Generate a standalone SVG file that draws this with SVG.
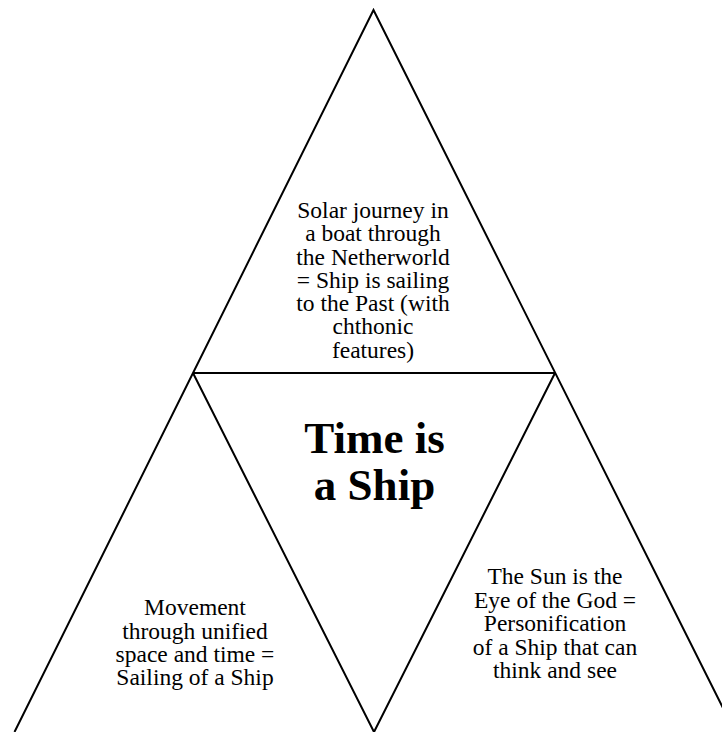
<svg xmlns="http://www.w3.org/2000/svg" width="722" height="732" viewBox="0 0 722 732">
<style>
.ln{stroke:#000;stroke-width:2;fill:none;stroke-linecap:butt;stroke-linejoin:miter}
.t{font-family:"Liberation Serif","Times New Roman",serif;font-size:23.5px;fill:#000;text-anchor:middle}
.title{font-family:"Liberation Serif","Times New Roman",serif;font-size:45px;font-weight:bold;fill:#000;text-anchor:middle}
</style>
<rect width="722" height="732" fill="#fff"/>
<g id="connectors">
<polyline class="ln" points="14.5,732 373.5,10 735,732"/>
<line class="ln" x1="193" y1="373" x2="555" y2="373"/>
<polyline class="ln" points="193,373 374,732 555,373"/>
</g>
<g id="node-top">
<text class="t" x="373" y="218">Solar journey in</text>
<text class="t" x="373" y="241">a boat through</text>
<text class="t" x="373" y="264.5">the Netherworld</text>
<text class="t" x="373" y="288">= Ship is sailing</text>
<text class="t" x="373" y="311">to the Past (with</text>
<text class="t" x="373" y="334">chthonic</text>
<text class="t" x="373" y="357.5">features)</text>
</g>
<g id="node-center">
<text class="title" x="374.5" y="453">Time is</text>
<text class="title" x="374.5" y="500">a Ship</text>
</g>
<g id="node-left">
<text class="t" x="195" y="615">Movement</text>
<text class="t" x="195" y="638.5">through unified</text>
<text class="t" x="195" y="662">space and time =</text>
<text class="t" x="195" y="685">Sailing of a Ship</text>
</g>
<g id="node-right">
<text class="t" x="555" y="584">The Sun is the</text>
<text class="t" x="555" y="607.5">Eye of the God =</text>
<text class="t" x="555" y="631">Personification</text>
<text class="t" x="555" y="654.5">of a Ship that can</text>
<text class="t" x="555" y="678">think and see</text>
</g>
</svg>
